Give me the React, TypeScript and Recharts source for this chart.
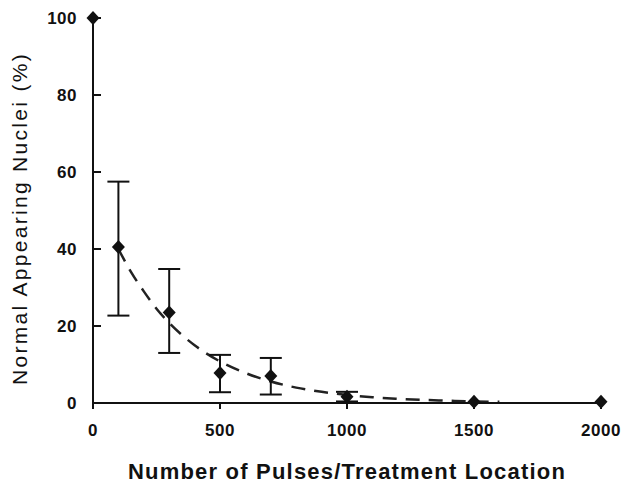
import React from 'react';
import { ComposedChart, XAxis, YAxis, Scatter, Line, ErrorBar, Label } from 'recharts';

const pulses = [0, 100, 300, 500, 700, 1000, 1500, 2000];
const normalPct = [100, 40.5, 23.5, 7.8, 7, 1.6, 0.3, 0.3];
const errLow: (number | null)[] = [null, 17.8, 10.5, 5, 4.8, 1.2, null, null];
const errHigh: (number | null)[] = [null, 17, 11.3, 4.7, 4.7, 1.3, null, null];

const fitX = [100, 150, 200, 250, 300, 400, 500, 600, 700, 800, 900, 1000, 1100, 1200, 1300, 1400, 1500, 1600];
const fitY = [40, 34, 29, 24.5, 20.8, 15, 10.8, 7.8, 5.6, 4, 2.9, 2.1, 1.5, 1.1, 0.8, 0.6, 0.4, 0.3];

const xTicks = [0, 500, 1000, 1500, 2000];
const yTicks = [0, 20, 40, 60, 80, 100];

const points = pulses.map((x, i) => ({
  x,
  y: normalPct[i],
  err: errLow[i] == null ? undefined : [errLow[i], errHigh[i]],
}));
const fit = fitX.map((x, i) => ({ x, y: fitY[i] }));

const INK = '#111';
const FONT = '"Liberation Sans", Arial, sans-serif';
const Y_TICK_MARGIN = 16;
const Y_TICK_LEN = 8;

const Diamond = (props: any) => {
  const { cx, cy } = props;
  if (cx == null || cy == null) return null;
  const w = 6.5;
  const h = 7;
  return <polygon points={`${cx},${cy - h} ${cx + w},${cy} ${cx},${cy + h} ${cx - w},${cy}`} fill={INK} />;
};

const YTick = (props: any) => {
  const { x, y, payload } = props;
  const axisX = x + Y_TICK_MARGIN;
  return (
    <g>
      <line x1={axisX} y1={y} x2={axisX + Y_TICK_LEN} y2={y} stroke={INK} strokeWidth={2} />
      <text
        x={x}
        y={y}
        dy="0.36em"
        textAnchor="end"
        fill={INK}
        fontSize={17}
        fontWeight={700}
        fontFamily={FONT}
        letterSpacing={0.5}
      >
        {payload.value}
      </text>
    </g>
  );
};

export default function App() {
  return (
    <div style={{ position: 'absolute', left: 0, top: 0, background: '#fff' }}>
      <ComposedChart width={633} height={491} margin={{ top: 18, right: 32, left: 33, bottom: 28 }}>
        <XAxis
          dataKey="x"
          type="number"
          domain={[0, 2000]}
          ticks={xTicks}
          height={60}
          axisLine={{ stroke: INK, strokeWidth: 2 }}
          tickLine={{ stroke: INK, strokeWidth: 2 }}
          tickSize={6}
          tickMargin={15}
          tick={{ fill: INK, fontSize: 17, fontWeight: 700, fontFamily: FONT, letterSpacing: 0.5 }}
        >
          <Label
            value="Number of Pulses/Treatment Location"
            position="bottom"
            offset={0}
            style={{ fill: INK, fontSize: 22, fontWeight: 700, fontFamily: FONT, letterSpacing: 1.2 }}
          />
        </XAxis>
        <YAxis
          type="number"
          domain={[0, 100]}
          ticks={yTicks}
          width={60}
          axisLine={{ stroke: INK, strokeWidth: 2 }}
          tickLine={false}
          tickSize={0}
          tickMargin={Y_TICK_MARGIN}
          tick={<YTick />}
        >
          <Label
            value="Normal Appearing Nuclei (%)"
            angle={-90}
            position="insideLeft"
            offset={-13}
            dy={8}
            style={{ fill: INK, fontSize: 21, fontWeight: 500, fontFamily: FONT, letterSpacing: 2.3, textAnchor: 'middle' }}
          />
        </YAxis>
        <Line
          data={fit}
          dataKey="y"
          type="monotone"
          stroke="#222"
          strokeWidth={2.5}
          strokeDasharray="14 9"
          dot={false}
          activeDot={false}
          isAnimationActive={false}
        />
        <Scatter data={points} dataKey="y" shape={<Diamond />} isAnimationActive={false}>
          <ErrorBar dataKey="err" direction="y" width={11} stroke={INK} strokeWidth={2} isAnimationActive={false} />
        </Scatter>
      </ComposedChart>
    </div>
  );
}
